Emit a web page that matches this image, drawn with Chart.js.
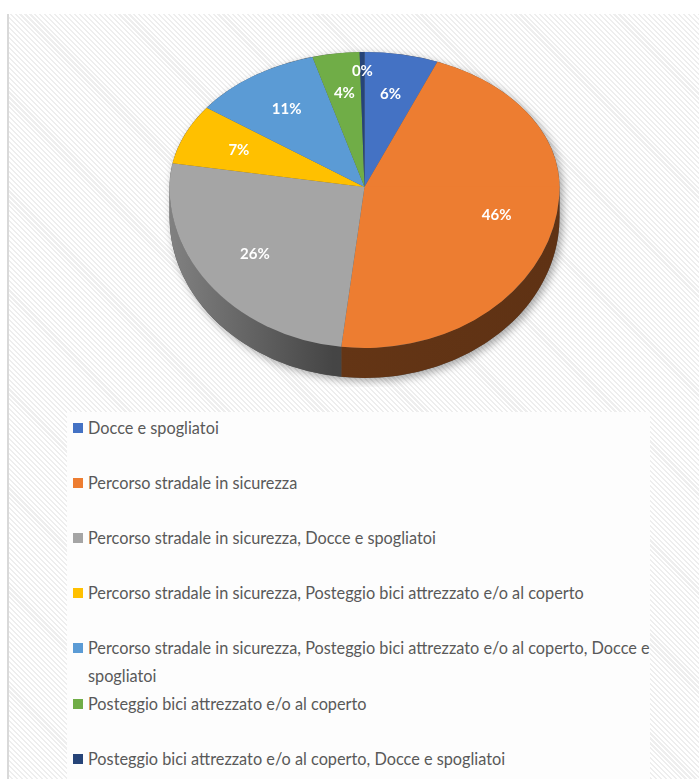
<!DOCTYPE html>
<html>
<head>
<meta charset="utf-8">
<script src="https://cdn.jsdelivr.net/npm/chart.js@4.4.0/dist/chart.umd.min.js"></script>
<style>
  html, body { margin: 0; padding: 0; background: #fff; }
  #frame { position: relative; width: 699px; height: 779px; overflow: hidden; background: #fff; }
  #area {
    position: absolute; left: 9px; top: 14px; right: 0; bottom: 0;
    background: repeating-linear-gradient(45deg, #ffffff 0px, #ffffff 2px, #eeeeee 2px, #eeeeee 3.5px);
  }
  #edge { position: absolute; left: 7px; top: 14px; width: 2px; bottom: 0; background: #d9d9d9; }
  #pie { position: absolute; left: 0; top: -13px; }
  #legend {
    position: absolute; left: 67px; top: 412px; width: 583px; height: 367px;
    background: #fdfdfd; padding-top: 2px; box-sizing: border-box;
    font-family: Lato, "Open Sans", sans-serif; font-size: 16.3px; color: #595959;
  }
  .item { position: relative; width: 575px; min-height: 55px; line-height: 28px; padding-left: 21px; }
  .box { position: absolute; left: 6px; top: 9px; width: 10px; height: 10px; }
</style>
</head>
<body>
<div id="frame">
  <div id="area"></div>
  <div id="edge"></div>
  <canvas id="pie" width="699" height="400"></canvas>
  <div id="legend"></div>
</div>
<script>
const categories = [
  'Docce e spogliatoi',
  'Percorso stradale in sicurezza',
  'Percorso stradale in sicurezza, Docce e spogliatoi',
  'Percorso stradale in sicurezza, Posteggio bici attrezzato e/o al coperto',
  'Percorso stradale in sicurezza, Posteggio bici attrezzato e/o al coperto, Docce e spogliatoi',
  'Posteggio bici attrezzato e/o al coperto',
  'Posteggio bici attrezzato e/o al coperto, Docce e spogliatoi'
];
const shares = [6.1, 45.8, 25.9, 7.2, 10.7, 3.9, 0.4];
const colors = ['#4472C4', '#ED7D31', '#A5A5A5', '#FFC000', '#5B9BD5', '#70AD47', '#264478'];

// perspective of the disc: far half flatter than the near half
const RY_BACK = 135 / 195;
const RY_FRONT = 161 / 195;
const DEPTH = 30;

function shade(hex, k) {
  const n = parseInt(hex.slice(1), 16);
  const r = Math.round(((n >> 16) & 255) * k);
  const g = Math.round(((n >> 8) & 255) * k);
  const b = Math.round((n & 255) * k);
  return `rgb(${r},${g},${b})`;
}

function squash(ctx, cy, k) {
  ctx.translate(0, cy);
  ctx.scale(1, k);
  ctx.translate(0, -cy);
}

const pie3d = {
  id: 'pie3d',
  beforeDatasetsDraw(chart) {
    const arcs = chart.getDatasetMeta(0).data;
    if (!arcs.length) return;
    const { x, y, outerRadius: r } = arcs[0];
    const ctx = chart.ctx;
    const ryF = r * RY_FRONT;
    const ryB = r * RY_BACK;

    // drop shadow of the whole disc
    ctx.save();
    ctx.shadowColor = 'rgba(0,0,0,0.35)';
    ctx.shadowBlur = 9;
    ctx.shadowOffsetX = 3;
    ctx.shadowOffsetY = 3;
    ctx.fillStyle = '#555';
    ctx.beginPath();
    ctx.ellipse(x, y + DEPTH, r, ryF, 0, 0, Math.PI);
    ctx.ellipse(x, y, r, ryB, 0, Math.PI, Math.PI * 2);
    ctx.closePath();
    ctx.fill();
    ctx.restore();

    // side walls of the slices on the near half
    arcs.forEach((arc, i) => {
      const a1 = Math.max(arc.startAngle, 0);
      const a2 = Math.min(arc.endAngle, Math.PI);
      if (a2 <= a1) return;
      const base = colors[i];
      const grad = ctx.createLinearGradient(x - r, 0, x + r, 0);
      grad.addColorStop(0, shade(base, 0.78));
      grad.addColorStop(0.42, shade(base, 0.42));
      grad.addColorStop(1, shade(base, 0.40));
      ctx.beginPath();
      ctx.ellipse(x, y, r, ryF, 0, a1, a2);
      ctx.ellipse(x, y + DEPTH, r, ryF, 0, a2, a1, true);
      ctx.closePath();
      ctx.fillStyle = grad;
      ctx.fill();
    });

    // far half of the top face
    ctx.save();
    ctx.beginPath();
    ctx.rect(0, 0, chart.width, y + 0.5);
    ctx.clip();
    squash(ctx, y, RY_BACK);
  },
  afterDatasetsDraw(chart) {
    const meta = chart.getDatasetMeta(0);
    const arcs = meta.data;
    if (!arcs.length) return;
    const ctx = chart.ctx;
    ctx.restore();

    // near half of the top face
    const { x, y, outerRadius: r } = arcs[0];
    ctx.save();
    ctx.beginPath();
    ctx.rect(0, y - 0.5, chart.width, chart.height);
    ctx.clip();
    squash(ctx, y, RY_FRONT);
    meta.controller.draw();
    ctx.restore();

    // percentage labels
    const values = chart.data.datasets[0].data;
    const total = values.reduce((a, b) => a + b, 0);
    ctx.save();
    ctx.font = 'bold 15px Lato, "Open Sans", sans-serif';
    ctx.fillStyle = '#ffffff';
    ctx.textAlign = 'center';
    ctx.textBaseline = 'middle';
    arcs.forEach((arc, i) => {
      const pct = values[i] / total * 100;
      const mid = (arc.startAngle + arc.endAngle) / 2;
      const f = pct < 1 ? 0.86 : 0.7;
      const sin = Math.sin(mid);
      const px = x + Math.cos(mid) * r * f;
      const py = y + sin * r * (sin > 0 ? RY_FRONT : RY_BACK) * f;
      ctx.fillText(Math.round(pct) + '%', px, py);
    });
    ctx.restore();
  }
};

const chart = new Chart(document.getElementById('pie'), {
  type: 'pie',
  data: {
    labels: categories,
    datasets: [{
      data: shares,
      backgroundColor: colors,
      borderWidth: 0,
      clip: false
    }]
  },
  options: {
    responsive: false,
    devicePixelRatio: 1,
    animation: false,
    events: [],
    layout: { padding: { left: 169.5, right: 139.5, top: 5, bottom: 5 } },
    plugins: {
      legend: { display: false },
      tooltip: { enabled: false }
    }
  },
  plugins: [pie3d]
});

// legend list under the pie
const legend = document.getElementById('legend');
chart.data.labels.forEach((label, i) => {
  const item = document.createElement('div');
  item.className = 'item';
  const box = document.createElement('span');
  box.className = 'box';
  box.style.background = chart.data.datasets[0].backgroundColor[i];
  item.appendChild(box);
  item.appendChild(document.createTextNode(label));
  legend.appendChild(item);
});
</script>
</body>
</html>
